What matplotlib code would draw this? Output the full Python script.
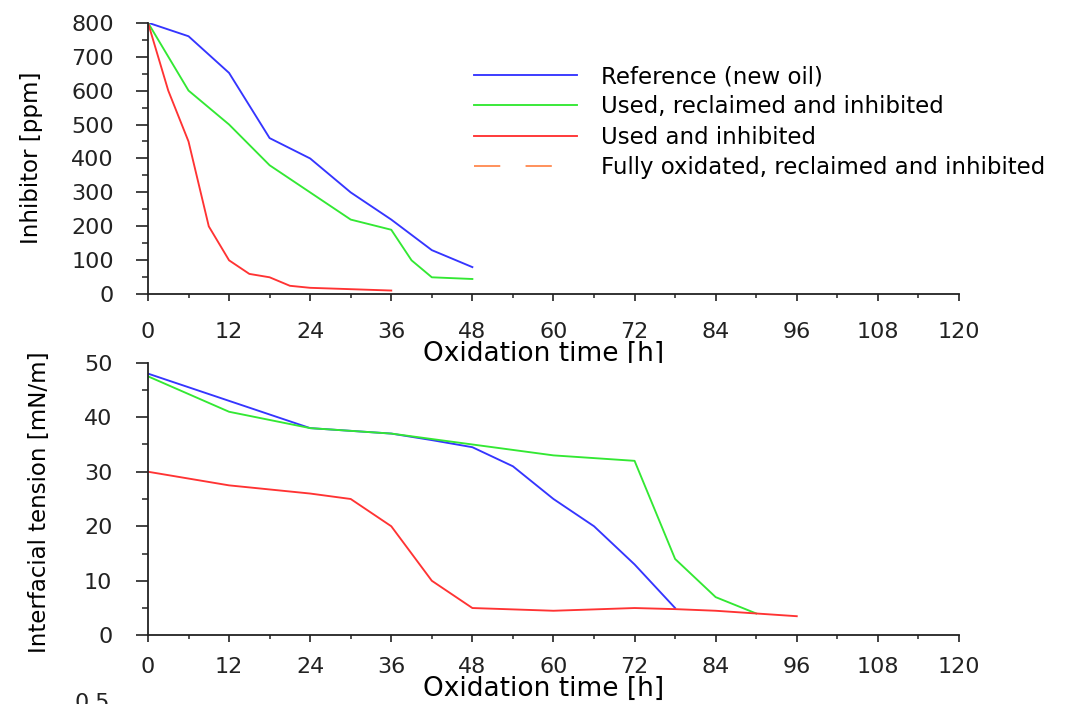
import matplotlib.pyplot as plt
from matplotlib.ticker import MultipleLocator

# inhibitor content [ppm] vs oxidation time [h]
inh_time_ref = [0, 6, 12, 18, 24, 30, 36, 42, 48]
inh_ref = [800, 760, 652, 460, 400, 300, 220, 130, 80]
inh_time_recl = [0, 6, 12, 18, 24, 30, 36, 39, 42, 48]
inh_recl = [800, 600, 500, 380, 300, 220, 190, 100, 50, 45]
inh_time_used = [0, 3, 6, 9, 12, 15, 18, 21, 24, 30, 36]
inh_used = [800, 600, 450, 200, 100, 60, 50, 25, 19, 15, 11]

# interfacial tension [mN/m] vs oxidation time [h]
ift_time_ref = [0, 12, 24, 36, 42, 48, 54, 60, 66, 72, 78]
ift_ref = [48, 43, 38, 37, 35.8, 34.5, 31, 25, 20, 13, 5]
ift_time_recl = [0, 12, 24, 36, 48, 54, 60, 72, 78, 84, 90]
ift_recl = [47.5, 41, 38, 37, 35, 34, 33, 32, 14, 7, 4]
ift_time_used = [0, 12, 24, 30, 36, 42, 48, 60, 72, 78, 84, 90, 96]
ift_used = [30, 27.5, 26, 25, 20, 10, 5, 4.5, 5, 4.8, 4.5, 4, 3.5]

# fully oxidated sample: no points on these panels, only in the legend
fox_time = []
fox_values = []

labels = ['Reference (new oil)', 'Used, reclaimed and inhibited',
          'Used and inhibited', 'Fully oxidated, reclaimed and inhibited']
colors = ['#3535ff', '#33e833', '#ff3333', '#ff8c55']
xticks = [0, 12, 24, 36, 48, 60, 72, 84, 96, 108, 120]

lw = 1.35
axcol = '#222222'

fig = plt.figure(figsize=(10.88, 7.04), dpi=100)
ax1 = fig.add_axes([0.136, 0.582, 0.7454, 0.3858])
ax2 = fig.add_axes([0.136, 0.0976, 0.7454, 0.3872])


def style_axes(ax, ymax, ymajor, yminor, xpad, ypad):
    ax.set_xlim(0, 120)
    ax.set_ylim(0, ymax)
    ax.set_xticks(xticks)
    ax.xaxis.set_minor_locator(MultipleLocator(6))
    ax.yaxis.set_major_locator(MultipleLocator(ymajor))
    ax.yaxis.set_minor_locator(MultipleLocator(yminor))
    for s in ['top', 'right']:
        ax.spines[s].set_visible(False)
    for s in ['left', 'bottom']:
        ax.spines[s].set_linewidth(1.3)
        ax.spines[s].set_color(axcol)
    ax.tick_params(axis='x', which='major', length=5, width=1.2, pad=xpad,
                   labelsize=16, colors=axcol)
    ax.tick_params(axis='x', which='minor', length=3, width=1.1, colors=axcol)
    ax.tick_params(axis='y', which='major', length=8.6, width=1.2, pad=ypad,
                   labelsize=16, colors=axcol)
    ax.tick_params(axis='y', which='minor', length=4.3, width=1.1, colors=axcol)


# top: inhibitor depletion
ax1.plot(inh_time_ref, inh_ref, color=colors[0], lw=lw, label=labels[0])
ax1.plot(inh_time_recl, inh_recl, color=colors[1], lw=lw, label=labels[1])
ax1.plot(inh_time_used, inh_used, color=colors[2], lw=lw, label=labels[2])
ax1.plot(fox_time, fox_values, color=colors[3], lw=lw, ls=(0, (14, 13.5)),
         label=labels[3])
style_axes(ax1, 800, 100, 50, 14.9, 16)
ax1.set_xlabel('Oxidation time [h]', fontsize=19)
ax1.set_ylabel('Inhibitor [ppm]', fontsize=16.5)
ax1.xaxis.set_label_coords(0.488, -0.172)
ax1.yaxis.set_label_coords(-0.1295, 0.502)
ax1.legend(loc='upper left', bbox_to_anchor=(0.402, 0.844), frameon=False,
           fontsize=16.5, handlelength=4.5, handletextpad=1.05,
           labelspacing=0.32, borderpad=0, borderaxespad=0)

# bottom: interfacial tension
ax2.plot(ift_time_ref, ift_ref, color=colors[0], lw=lw)
ax2.plot(ift_time_recl, ift_recl, color=colors[1], lw=lw)
ax2.plot(ift_time_used, ift_used, color=colors[2], lw=lw)
ax2.plot(fox_time, fox_values, color=colors[3], lw=lw, ls=(0, (14, 13.5)))
style_axes(ax2, 50, 10, 5, 10.8, 17)
ax2.set_xlabel('Oxidation time [h]', fontsize=19)
ax2.set_ylabel('Interfacial tension [mN/m]', fontsize=16.5)
ax2.xaxis.set_label_coords(0.488, -0.150)
ax2.yaxis.set_label_coords(-0.1196, 0.489)

# top of the next panel's tick label, cut by the page edge
fig.text(0.101, 0.0155, '0.5', ha='right', va='top', fontsize=16, color=axcol)

fig.savefig('out.png', dpi=100)
